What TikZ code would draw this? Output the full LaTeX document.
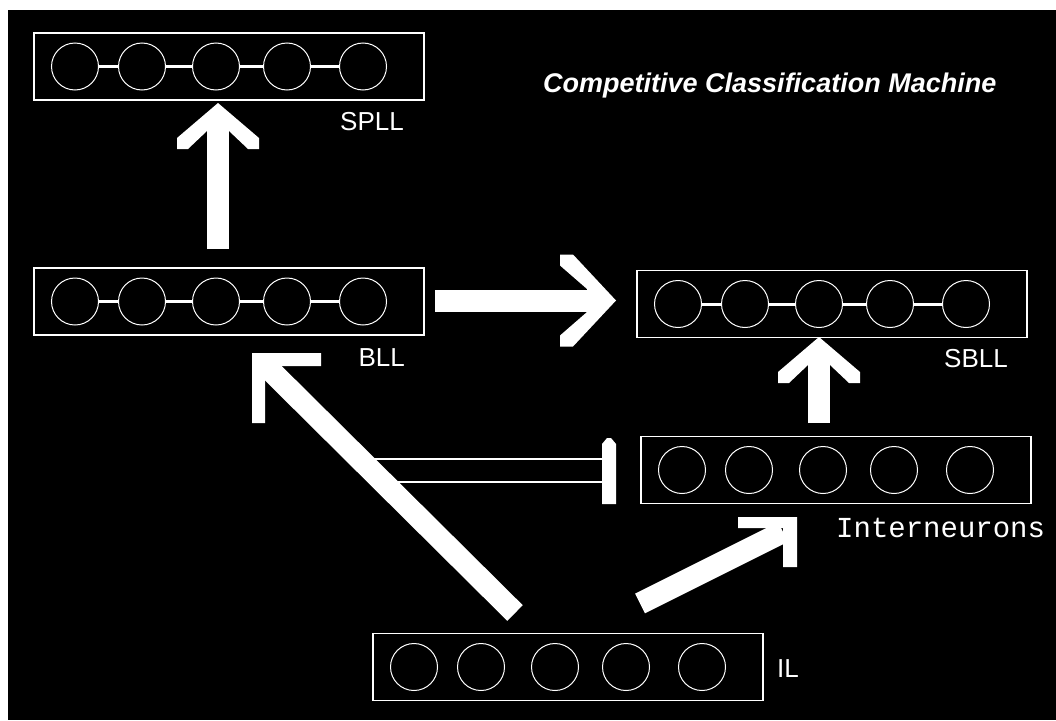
\documentclass[tikz,border=0pt]{standalone}
\usepackage{fontspec}
\setmainfont{Liberation Sans}
\newfontfamily\monofont{Liberation Mono}
\usetikzlibrary{calc}

\tikzset{
  layerbox/.style={draw=white, line width=1.5pt, minimum width=390pt,
    minimum height=67pt, inner sep=0pt},
  neuron/.style={circle, draw=white, line width=1pt, minimum size=47pt,
    inner sep=0pt},
  link/.style={white, line width=3pt},
  layername/.style={text=white, inner sep=0pt,
    font=\fontsize{26}{26}\selectfont},
  shaft/.style={white, line width=22pt},
  headfill/.style={fill=white},
  inhib/.style={white, line width=1.5pt},
}

% a layer: box plus five neurons (name, left edge, centre line)
\newcommand\neuronlayer[3]{%
  \node[layerbox, anchor=west] (#1) at (#2,#3) {};
  \foreach \i/\dx in {1/42,2/109,3/183,4/254,5/330}
    \node[neuron] (#1\i) at ({#2+\dx},#3) {};
}
% lateral links between neighbouring neurons of a layer
\newcommand\chainlayer[1]{%
  \foreach \a/\b in {1/2,2/3,3/4,4/5}
    \draw[link] (#1\a) -- (#1\b);
}

\begin{document}
\begin{tikzpicture}[x=1pt,y=-1pt]
\useasboundingbox (0,0) rectangle (1056,720);
\fill[white] (0,0) rectangle (1056,720);
\fill[black] (8,10) rectangle (1056,720);

% title
\node[anchor=base west, inner sep=0pt, text=white,
  font=\fontsize{27}{27}\selectfont\bfseries\itshape] (title) at (543,92)
  {Competitive Classification Machine};

% layers
\neuronlayer{spll}{33}{66.5}
\neuronlayer{bll}{33}{301.5}
\neuronlayer{sbll}{636}{304}
\neuronlayer{inter}{640}{470}
\neuronlayer{il}{372}{667}
\chainlayer{spll}
\chainlayer{bll}
\chainlayer{sbll}

% layer names
\node[layername, anchor=base east] (spllname) at (404,130) {SPLL};
\node[layername, anchor=base east] (bllname) at (405,366) {BLL};
\node[layername, anchor=base east] (sbllname) at (1008,367) {SBLL};
\node[layername, anchor=base west] (ilname) at (777,677) {IL};
\node[anchor=base west, inner sep=0pt, text=white,
  font=\monofont\fontsize{29}{29}\selectfont] (intername) at (836,537)
  {Interneurons};

% arrow end points
\coordinate (bllOut) at (218,249);
\coordinate (spllIn) at (218,103);
\coordinate (bllSide) at (435,300.5);
\coordinate (sbllSide) at (616,300.5);
\coordinate (interOut) at (819,423);
\coordinate (sbllIn) at (819,337);
\coordinate (ilLeft) at (515,613);
\coordinate (bllReach) at (263,363);
\coordinate (bllCorner) at (252,353);
\coordinate (ilRight) at (640,603.5);
\coordinate (interReach) at (783,532);
\coordinate (interCorner) at (797,517);

% inhibition from the interneurons onto the IL -> BLL pathway
\coordinate (inhA) at (360,459);
\coordinate (inhB) at (385,482);
\coordinate (barTop) at (609,438);
\draw[inhib] (inhA) -- (inhA -| barTop);
\draw[inhib] (inhB) -- (inhB -| barTop);
\fill[white] (barTop) ++(-2,0) -- ++(4,0) -- ++(5,6) -- ++(0,60)
  -- ++(-14,0) -- ++(0,-60) -- cycle;

% BLL -> SPLL
\draw[shaft, shorten >=28pt] (bllOut) -- (spllIn);
\fill[headfill] (spllIn) -- ++(-41,35) -- ++(0,11) -- ++(11,0)
  -- ++(19,-18) -- ++(22,0) -- ++(19,18) -- ++(11,0) -- ++(0,-11) -- cycle;

% interneurons -> SBLL
\draw[shaft, shorten >=28pt] (interOut) -- (sbllIn);
\fill[headfill] (sbllIn) -- ++(-41,35) -- ++(0,11) -- ++(11,0)
  -- ++(19,-18) -- ++(22,0) -- ++(19,18) -- ++(11,0) -- ++(0,-11) -- cycle;

% BLL -> SBLL
\draw[shaft, shorten >=29pt] (bllSide) -- (sbllSide);
\fill[headfill] (sbllSide) -- ++(-43,-46) -- ++(-13,0) -- ++(0,11)
  -- ++(27,23.5) -- ++(0,23) -- ++(-27,23.5) -- ++(0,11) -- ++(13,0) -- cycle;

% IL -> BLL
\draw[shaft] (ilLeft) -- (bllReach);
\fill[headfill] (bllCorner) -- ++(69,0) -- ++(0,13) -- ++(-56,0)
  -- ++(0,57) -- ++(-13,0) -- cycle;

% IL -> interneurons
\draw[shaft] (ilRight) -- (interReach);
\fill[headfill] (interCorner) -- ++(-59,0) -- ++(0,11) -- ++(45,0)
  -- ++(0,39) -- ++(14,0) -- cycle;
\end{tikzpicture}
\end{document}
